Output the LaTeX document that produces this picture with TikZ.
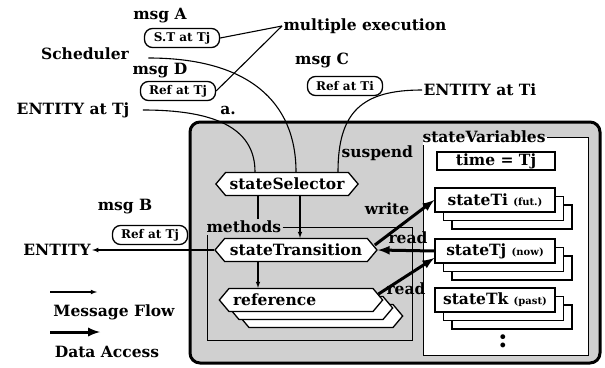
\documentclass[tikz,border=0pt]{standalone}
\usepackage{fontspec}
\setmainfont{DejaVu Serif}
\usepackage{tikz}
\usetikzlibrary{shapes.symbols,shadows}
\definecolor{dotgray}{RGB}{208,208,208}

\begin{document}
\begin{tikzpicture}[x=1pt, y=-1pt, >=latex, line width=1.1pt,
  every node/.style={font=\bfseries\fontsize{15.5}{17}\selectfont, inner sep=1pt},
  msgbox/.style={draw, rounded corners=8pt, fill=white, minimum width=75pt, minimum height=19pt, font=\bfseries\fontsize{12}{13}\selectfont, line width=1.3pt},
  method/.style={draw, fill=white, shape=signal, signal to=west and east, signal pointer angle=100, minimum height=23pt, line width=1.3pt, inner xsep=4pt},
  varbox/.style={draw, fill=white, minimum width=120pt, minimum height=24pt, line width=1.3pt},
  data/.style={->, line width=3pt}]
  \useasboundingbox (0,0) rectangle (605,367);

  % outer object
  \draw[line width=3pt, rounded corners=10pt, fill=dotgray] (190,122) rectangle (600,363);
  \fill[white] (423,137) rectangle (588,355);

  % messages outside
  \node (msga) at (160,16) {msg A};
  \node[msgbox] (pilla) at (182,38) {S.T at Tj};
  \node[anchor=west] (multi) at (282,26) {multiple execution};
  \node (sched) at (85,54) {Scheduler};
  \node (msgd) at (160,71) {msg D};
  \node[msgbox] (pilld) at (178,91) {Ref at Tj};
  \node (entj) at (73,110) {ENTITY at Tj};
  \node (alabel) at (228,110) {a.};
  \node (msgc) at (322,60) {msg C};
  \node[msgbox] (pillc) at (345,86) {Ref at Ti};
  \node[anchor=west] (enti) at (422,90) {ENTITY at Ti};
  \node (msgb) at (125,207) {msg B};
  \node[msgbox] (pillb) at (150,235) {Ref at Tj};
  \node (ent) at (57,250) {ENTITY};

  % frames
  \node[anchor=west] (meth) at (205,227) {methods};
  \draw[line width=0.8pt] (meth.east) -- (412,227) -- (412,340) -- (207,340) -- (207,0 |- meth.south);
  \node[anchor=west] (svars) at (421,137) {stateVariables};
  \draw[line width=0.8pt] (svars.east) -- (588,137) -- (588,355) -- (423,355) -- (423,0 |- svars.south);

  % methods
  \node[method, minimum width=137pt] (sel) at (287,184) {stateSelector};
  \node[method, minimum width=162pt] (trans) at (296,250) {stateTransition};
  \node[method, minimum width=162pt, double copy shadow={shadow xshift=10pt, shadow yshift=-8pt, line width=1.3pt}] (ref) at (301,300) {\makebox[136pt][l]{reference}};

  % state variables
  \node[draw, fill=white, minimum width=118pt, minimum height=18pt, line width=1.3pt] (time) at (496,161) {time = Tj};
  \node[varbox, double copy shadow={shadow xshift=8.5pt, shadow yshift=-8.5pt, line width=1.3pt}] (sti) at (495,200) {stateTi {\fontsize{10}{11}\selectfont (fut.)}};
  \node[varbox, double copy shadow={shadow xshift=8.5pt, shadow yshift=-8.5pt, line width=1.3pt}] (stj) at (495,251) {stateTj {\fontsize{10}{11}\selectfont (now)}};
  \node[varbox, double copy shadow={shadow xshift=8.5pt, shadow yshift=-8.5pt, line width=1.3pt}] (stk) at (495,300) {stateTk {\fontsize{10}{11}\selectfont (past)}};
  \node[font=\bfseries\fontsize{26}{26}\selectfont] (more) at (503,341) {:};

  % message flow
  \draw (pilla.east) -- (multi.west);
  \draw (pilld.east) -- (multi.west);
  \draw ([xshift=18pt,yshift=-4pt]sched.east) .. controls +(100,0) and +(0,-70) .. ([xshift=9pt]sel.north);
  \draw ([xshift=12pt]entj.east) .. controls +(70,0) and +(0,-45) .. ([xshift=-32pt]sel.north);
  \draw (enti.west) .. controls +(-60,0) and +(0,-60) .. ([xshift=51pt]sel.north);
  \node[anchor=west] (susp) at (340,153) {suspend};
  \draw[->] ([xshift=13pt]sel.south) -- ([xshift=13pt]sel.south |- trans.north);
  \draw ([xshift=-29pt]sel.south) -- ([xshift=-29pt]sel.south |- meth.north);
  \draw[->] ([xshift=-38pt]trans.south) -- ([xshift=-38pt]trans.south |- ref.north);
  \draw[->] (trans.west) -- (ent.east);

  % data access
  \draw[data] ([xshift=-3pt,yshift=5pt]trans.east) -- (sti.west);
  \draw[data] (stj.west) -- (trans.east);
  \draw[data] ([xshift=-5pt,yshift=6pt]ref.east) -- ([yshift=-7pt]stj.west);
  \node (wr) at (387,209) {write};
  \node (rd1) at (408,238) {read};
  \node (rd2) at (406,289) {read};

  % legend
  \coordinate (lm1) at (50,292);
  \coordinate (lm2) at (97,292);
  \coordinate (ld1) at (50,332);
  \coordinate (ld2) at (100,332);
  \draw[->] (lm1) -- (lm2);
  \node (lgm) at (114,312) {Message Flow};
  \draw[data] (ld1) -- (ld2);
  \node (lgd) at (107,352) {Data Access};
\end{tikzpicture}
\end{document}
